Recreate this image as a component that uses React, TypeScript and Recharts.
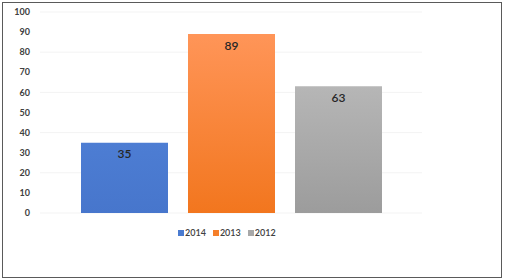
import { BarChart, Bar, XAxis, YAxis, CartesianGrid, LabelList } from "recharts"

const categories = [""]
const values2014 = [35]
const values2013 = [89]
const values2012 = [63]
const yTicks = [0, 10, 20, 30, 40, 50, 60, 70, 80, 90, 100]

const data = categories.map((name, i) => ({
  name,
  y2014: values2014[i],
  y2013: values2013[i],
  y2012: values2012[i],
}))

const series = [
  { key: "y2014", label: "2014", fill: "url(#gBlue)", swatch: "#4a7bd0" },
  { key: "y2013", label: "2013", fill: "url(#gOrange)", swatch: "#f57f2a" },
  { key: "y2012", label: "2012", fill: "url(#gGray)", swatch: "#a8a8a8" },
]

const font = "Lato, 'Open Sans', sans-serif"

export default function App() {
  return (
    <div style={{ position: "fixed", left: 0, top: 0, width: 505, height: 280, background: "#fff" }}>
      <div
        style={{
          position: "absolute",
          left: 2,
          top: 2,
          width: 498,
          height: 274,
          border: "1px solid #5a5a5a",
        }}
      />
      <BarChart
        width={505}
        height={280}
        data={data}
        margin={{ top: 12, right: 83, left: 0, bottom: 67 }}
        barCategoryGap={41}
        barGap={20}
      >
        <defs>
          <linearGradient id="gBlue" x1="0" y1="0" x2="0" y2="1">
            <stop offset="0%" stopColor="#4d7dd3" />
            <stop offset="100%" stopColor="#4776cc" />
          </linearGradient>
          <linearGradient id="gOrange" x1="0" y1="0" x2="0" y2="1">
            <stop offset="0%" stopColor="#ff9558" />
            <stop offset="100%" stopColor="#f2761e" />
          </linearGradient>
          <linearGradient id="gGray" x1="0" y1="0" x2="0" y2="1">
            <stop offset="0%" stopColor="#b6b6b6" />
            <stop offset="100%" stopColor="#9c9c9c" />
          </linearGradient>
        </defs>
        <CartesianGrid vertical={false} stroke="#f3f3f3" />
        <XAxis dataKey="name" hide />
        <YAxis
          width={40}
          domain={[0, 100]}
          ticks={yTicks}
          axisLine={false}
          tickLine={false}
          tickMargin={4}
          tick={{ fill: "#404040", fontSize: 9, fontFamily: font, fontWeight: 700 }}
        />
        {series.map((s) => (
          <Bar key={s.key} dataKey={s.key} fill={s.fill} isAnimationActive={false}>
            <LabelList
              dataKey={s.key}
              position="insideTop"
              offset={7}
              fill="#262626"
              fontSize={12}
              fontFamily={font}
              fontWeight={600}
            />
          </Bar>
        ))}
      </BarChart>
      {/* legend drawn as plain html so it doesn't shrink the plot */}
      <div
        style={{
          position: "absolute",
          left: 178,
          top: 227,
          display: "flex",
          fontFamily: font,
          fontSize: 9,
          fontWeight: 600,
          color: "#404040",
        }}
      >
        {series.map((s) => (
          <div key={s.key} style={{ display: "flex", alignItems: "center", marginRight: 7 }}>
            <span style={{ width: 6, height: 6, background: s.swatch, marginRight: 1 }} />
            <span>{s.label}</span>
          </div>
        ))}
      </div>
    </div>
  )
}
